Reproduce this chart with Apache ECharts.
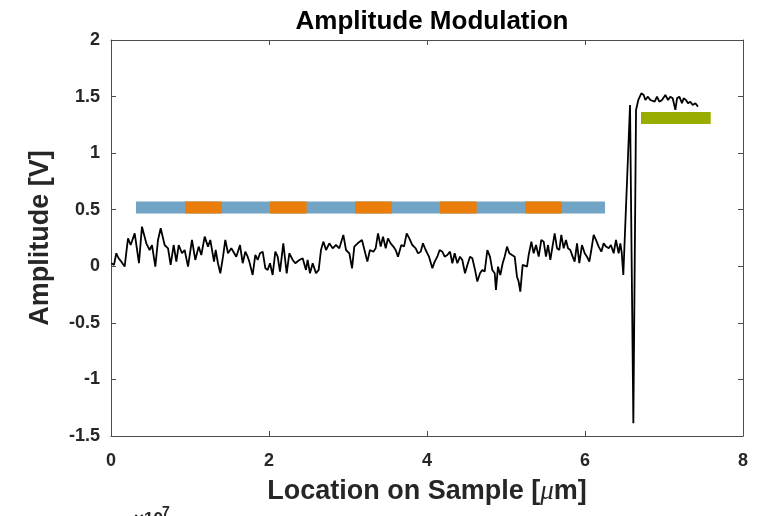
<!DOCTYPE html>
<html>
<head>
<meta charset="utf-8">
<script src="https://cdn.jsdelivr.net/npm/echarts@6/dist/echarts.min.js"></script>
<style>html,body{margin:0;padding:0;background:#fff}#c{width:774px;height:516px}</style>
</head>
<body>
<div id="c"></div>
<script>
// Location on sample (µm) and measured amplitude (V)
const locX = [
0.004,0.038,0.067,0.097,0.131,0.173,0.215,0.249,0.300,0.354,0.392,0.447,0.489,0.519,0.561,0.595,0.629,0.679,0.722,0.755,
0.793,0.827,0.857,0.899,0.932,0.975,1.025,1.067,1.110,1.143,1.186,1.228,1.257,1.304,1.325,1.354,1.384,1.418,1.447,1.481,
1.523,1.586,1.633,1.667,1.700,1.730,1.751,1.793,1.827,1.857,1.886,1.920,1.954,1.983,2.013,2.046,2.080,2.110,2.139,2.181,
2.224,2.257,2.300,2.333,2.384,2.426,2.468,2.489,2.519,2.553,2.595,2.629,2.658,2.688,2.722,2.764,2.806,2.848,2.890,2.941,
2.975,3.017,3.051,3.080,3.122,3.177,3.245,3.278,3.321,3.350,3.380,3.414,3.443,3.477,3.506,3.540,3.574,3.603,3.633,3.675,
3.709,3.743,3.776,3.814,3.857,3.886,3.920,3.949,3.983,4.025,4.068,4.097,4.131,4.160,4.194,4.224,4.257,4.291,4.321,4.350,
4.384,4.418,4.447,4.481,4.511,4.544,4.574,4.608,4.637,4.671,4.700,4.730,4.764,4.797,4.827,4.857,4.873,4.899,4.928,4.958,
4.983,5.013,5.042,5.076,5.110,5.139,5.160,5.181,5.211,5.236,5.266,5.287,5.321,5.350,5.380,5.414,5.447,5.477,5.506,5.532,
5.561,5.582,5.616,5.646,5.675,5.700,5.730,5.759,5.785,5.814,5.844,5.869,5.899,5.928,5.962,5.996,6.025,6.055,6.080,6.110,
6.139,6.173,6.207,6.236,6.266,6.300,6.328,6.363,6.392,6.426,6.447,6.465,6.485,6.570,6.612,6.646,6.675,6.713,6.743,6.764,
6.797,6.827,6.848,6.882,6.911,6.941,6.975,7.017,7.051,7.080,7.110,7.144,7.165,7.194,7.228,7.249,7.278,7.304,7.333,7.363,
7.397,7.430
];
const ampV = [
0.027,0.012,0.115,0.070,0.041,-0.003,0.247,0.188,0.291,0.027,0.350,0.203,0.144,0.188,-0.003,0.233,0.336,0.188,0.159,0.012,
0.188,0.041,0.188,0.115,0.144,-0.003,0.233,0.056,0.174,0.100,0.262,0.174,0.233,0.041,0.144,0.027,-0.062,0.085,0.233,0.115,
0.159,0.085,0.188,0.027,0.129,0.085,0.041,-0.077,0.100,0.056,0.115,0.129,-0.018,-0.032,0.027,-0.077,0.129,0.085,-0.047,0.203,
-0.062,0.115,0.056,0.027,0.056,0.071,-0.032,0.056,-0.062,0.027,-0.062,-0.032,0.144,0.218,0.144,0.203,0.159,0.188,0.159,0.277,
0.144,0.115,-0.018,0.174,0.203,0.233,0.041,0.144,0.129,0.159,0.291,0.174,0.262,0.159,0.247,0.203,0.174,0.144,0.085,0.188,
0.174,0.291,0.247,0.188,0.159,0.115,0.129,0.203,0.144,0.085,-0.018,0.041,0.085,0.144,0.129,0.085,0.100,0.129,0.027,0.115,
0.027,0.085,0.056,-0.062,0.012,0.085,0.071,-0.032,-0.135,-0.062,-0.032,-0.047,0.144,0.085,-0.032,-0.062,-0.209,-0.003,-0.077,0.027,
0.085,0.174,0.115,0.100,0.085,-0.092,-0.135,-0.224,0.012,0.027,-0.003,0.100,0.218,0.115,0.188,0.085,0.233,0.218,0.085,0.188,
0.056,0.041,0.291,0.159,0.144,0.277,0.159,0.233,0.159,0.144,0.085,0.041,0.203,0.027,0.188,0.115,0.085,0.041,0.144,0.277,
0.233,0.174,0.129,0.203,0.174,0.159,0.188,0.115,0.233,0.115,0.203,0.120,-0.077,1.426,-1.388,1.381,1.470,1.529,1.514,1.470,
1.499,1.470,1.485,1.455,1.499,1.455,1.470,1.514,1.470,1.499,1.485,1.382,1.485,1.499,1.441,1.485,1.470,1.441,1.455,1.426,
1.441,1.411
];
// Region markers: [start, end] locations and level
const blueSpan = [0.316, 6.253];
const orangeSpans = [[0.937, 1.401], [2.013, 2.477], [3.089, 3.553], [4.165, 4.629], [5.241, 5.705]];
const markerLevel = 0.52;
const greenSpan = [6.709, 7.591];
const greenLevel = 1.31;
const xTicks = [0, 8, 2];
const yTicks = [-1.5, 2, 0.5];

const chart = echarts.init(document.getElementById('c'));
const txt = '#262626';
const frame = '#4d4d4d';
const lineData = locX.map((x, i) => [x, ampV[i]]);
const orangeData = [];
orangeSpans.forEach(s => { orangeData.push([s[0], markerLevel], [s[1], markerLevel], [s[1], '-']); });

const axisCommon = {
  axisLine: { show: true, onZero: false, lineStyle: { color: frame, width: 1 } },
  axisTick: { show: true, inside: true, length: 5, lineStyle: { color: frame } },
  splitLine: { show: false }
};
chart.setOption({
  animation: false,
  title: {
    text: 'Amplitude Modulation', left: 427, top: 4, textAlign: 'center',
    textStyle: { fontFamily: 'Liberation Sans', fontWeight: 'bold', fontSize: 26, color: '#000' }
  },
  grid: { left: 111, right: 31, top: 40, bottom: 80 },
  xAxis: [
    Object.assign({
      type: 'value', min: xTicks[0], max: xTicks[1], interval: xTicks[2], position: 'bottom',
      axisLabel: { color: txt, fontFamily: 'Liberation Sans', fontWeight: 'bold', fontSize: 18, margin: 16 },
      name: 'Location on Sample [{i|μ}m]', nameLocation: 'middle', nameGap: 42,
      nameTextStyle: { color: txt, fontFamily: 'Liberation Sans', fontWeight: 'bold', fontSize: 27,
        rich: { i: { fontStyle: 'italic', fontWeight: 'normal', fontFamily: 'Liberation Serif', fontSize: 27, color: txt } } }
    }, axisCommon),
    Object.assign({
      type: 'value', min: xTicks[0], max: xTicks[1], interval: xTicks[2], position: 'top',
      axisLabel: { show: false }
    }, axisCommon)
  ],
  yAxis: [
    Object.assign({
      type: 'value', min: yTicks[0], max: yTicks[1], interval: yTicks[2], position: 'left',
      axisLabel: { color: txt, fontFamily: 'Liberation Sans', fontWeight: 'bold', fontSize: 18, margin: 11 },
      name: 'Amplitude [V]', nameLocation: 'middle', nameGap: 57, nameRotate: 90,
      nameTextStyle: { color: txt, fontFamily: 'Liberation Sans', fontWeight: 'bold', fontSize: 27 }
    }, axisCommon),
    Object.assign({
      type: 'value', min: yTicks[0], max: yTicks[1], interval: yTicks[2], position: 'right',
      axisLabel: { show: false }
    }, axisCommon)
  ],
  series: [
    { type: 'line', data: [[blueSpan[0], markerLevel], [blueSpan[1], markerLevel]], symbol: 'none',
      lineStyle: { color: '#71a4c5', width: 12, cap: 'butt' }, z: 2 },
    { type: 'line', data: orangeData, symbol: 'none', connectNulls: false,
      lineStyle: { color: '#eb7d0b', width: 12, cap: 'butt' }, z: 3 },
    { type: 'line', data: [[greenSpan[0], greenLevel], [greenSpan[1], greenLevel]], symbol: 'none',
      lineStyle: { color: '#98ad00', width: 12, cap: 'butt' }, z: 2 },
    { type: 'line', data: lineData, symbol: 'none',
      lineStyle: { color: '#000', width: 1.8 }, z: 4 }
  ],
  graphic: [
    { type: 'text', left: 134, top: 511, style: { text: '×10', fontFamily: 'Liberation Sans', fontWeight: 'bold', fontSize: 17, fill: txt } },
    { type: 'text', left: 162, top: 505, style: { text: '7', fontFamily: 'Liberation Sans', fontWeight: 'bold', fontSize: 14, fill: txt } }
  ]
});
</script>
</body>
</html>
